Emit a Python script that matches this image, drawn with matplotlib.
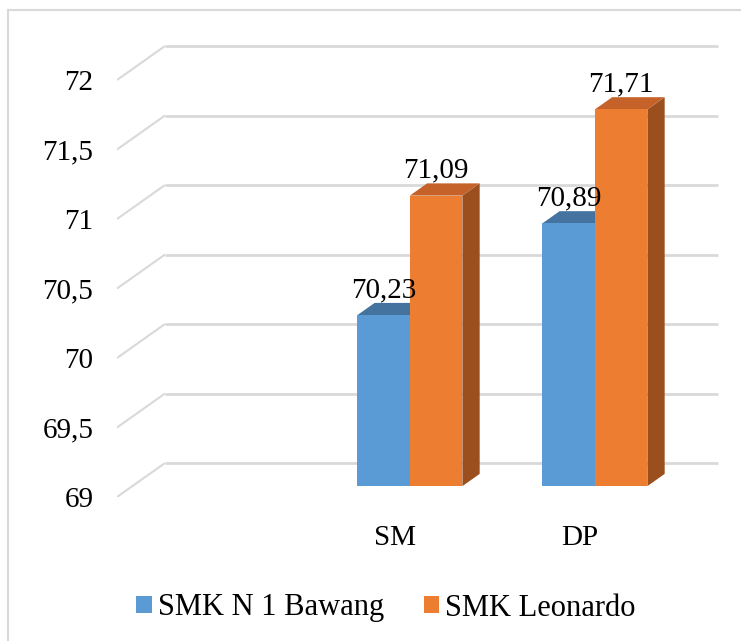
import numpy as np
import matplotlib.pyplot as plt
from matplotlib.patches import Polygon, Patch
from matplotlib.lines import Line2D

categories = ['', 'SM', 'DP']
bawang = [np.nan, 70.23, 70.89]
leonardo = [np.nan, 71.09, 71.71]
series_names = ['SMK N 1 Bawang', 'SMK Leonardo']
yticks = [69, 69.5, 70, 70.5, 71, 71.5, 72]

plt.rcParams['font.family'] = 'serif'
plt.rcParams['font.serif'] = ['Liberation Serif', 'DejaVu Serif']
FS = 21

W, H = 741, 641
fig = plt.figure(figsize=(W / 100, H / 100), dpi=100)
ax = fig.add_axes([117 / W, 1 - 497 / H, (720 - 117) / W, (497 - 30) / H])
ax.set_xlim(-0.5, -0.5 + (720 - 117) / 185)
ax.set_ylim(69, 69 + (497 - 30) / 139)

# fake 3D: oblique offset of the back wall, bars sit in the middle of the depth
DX, DY = 48 / 185, 34 / 139
d0, d1 = 0.32, 0.68
bw = 0.284
base = yticks[0]


def depth(x, y, d):
    return (x + d * DX, y + d * DY)


grid_c = '#d9d9d9'
for v in yticks:
    ax.plot([-0.5, -0.5 + DX], [v, v + DY], color=grid_c, lw=1.5, solid_capstyle='butt')
    ax.plot([-0.5 + DX, 2.75], [v + DY, v + DY], color=grid_c, lw=2, solid_capstyle='butt')

series = [
    (bawang, -bw, ('#5b9bd5', '#44739f', '#3e6b96')),
    (leonardo, 0.0, ('#ed7d31', '#c4622a', '#9c4f1e')),
]

for vals, off, (cf, ct, cs) in series:
    for i, v in enumerate(vals):
        if np.isnan(v):
            continue
        x0 = i + off
        x1 = x0 + bw
        side = [depth(x1, base, d0), depth(x1, base, d1), depth(x1, v, d1), depth(x1, v, d0)]
        top = [depth(x0, v, d0), depth(x1, v, d0), depth(x1, v, d1), depth(x0, v, d1)]
        front = [depth(x0, base, d0), depth(x1, base, d0), depth(x1, v, d0), depth(x0, v, d0)]
        ax.add_patch(Polygon(side, closed=True, facecolor=cs, edgecolor='none', zorder=3))
        ax.add_patch(Polygon(top, closed=True, facecolor=ct, edgecolor='none', zorder=3))
        ax.add_patch(Polygon(front, closed=True, facecolor=cf, edgecolor='none', zorder=3))
        lx, ly = depth((x0 + x1) / 2, v, d0)
        ax.text(lx, v + d1 * DY, ('%.2f' % v).replace('.', ','), ha='center', va='bottom',
                fontsize=FS, zorder=4)

for s in ax.spines.values():
    s.set_visible(False)
ax.set_yticks(yticks, [('%g' % t).replace('.', ',') for t in yticks])
ax.set_xticks(range(len(categories)), categories)
ax.tick_params(axis='y', length=0, pad=17, labelsize=FS)
ax.tick_params(axis='x', length=0, pad=20, labelsize=FS)

handles = [Patch(facecolor='#5b9bd5'), Patch(facecolor='#ed7d31')]
fig.legend(handles, series_names, loc='center', bbox_to_anchor=(386 / W, 1 - 608 / H), ncol=2,
           frameon=False, fontsize=22, handlelength=0.5, handleheight=0.5,
           handletextpad=0.2, columnspacing=1.3)

# chart border (only left and top visible in the crop)
fig.add_artist(Line2D([8 / W, 8 / W], [0, 1 - 10 / H], transform=fig.transFigure, color=grid_c, lw=1.5))
fig.add_artist(Line2D([8 / W, 1], [1 - 10 / H, 1 - 10 / H], transform=fig.transFigure, color=grid_c, lw=1.5))

fig.savefig('out.png', dpi=100)
